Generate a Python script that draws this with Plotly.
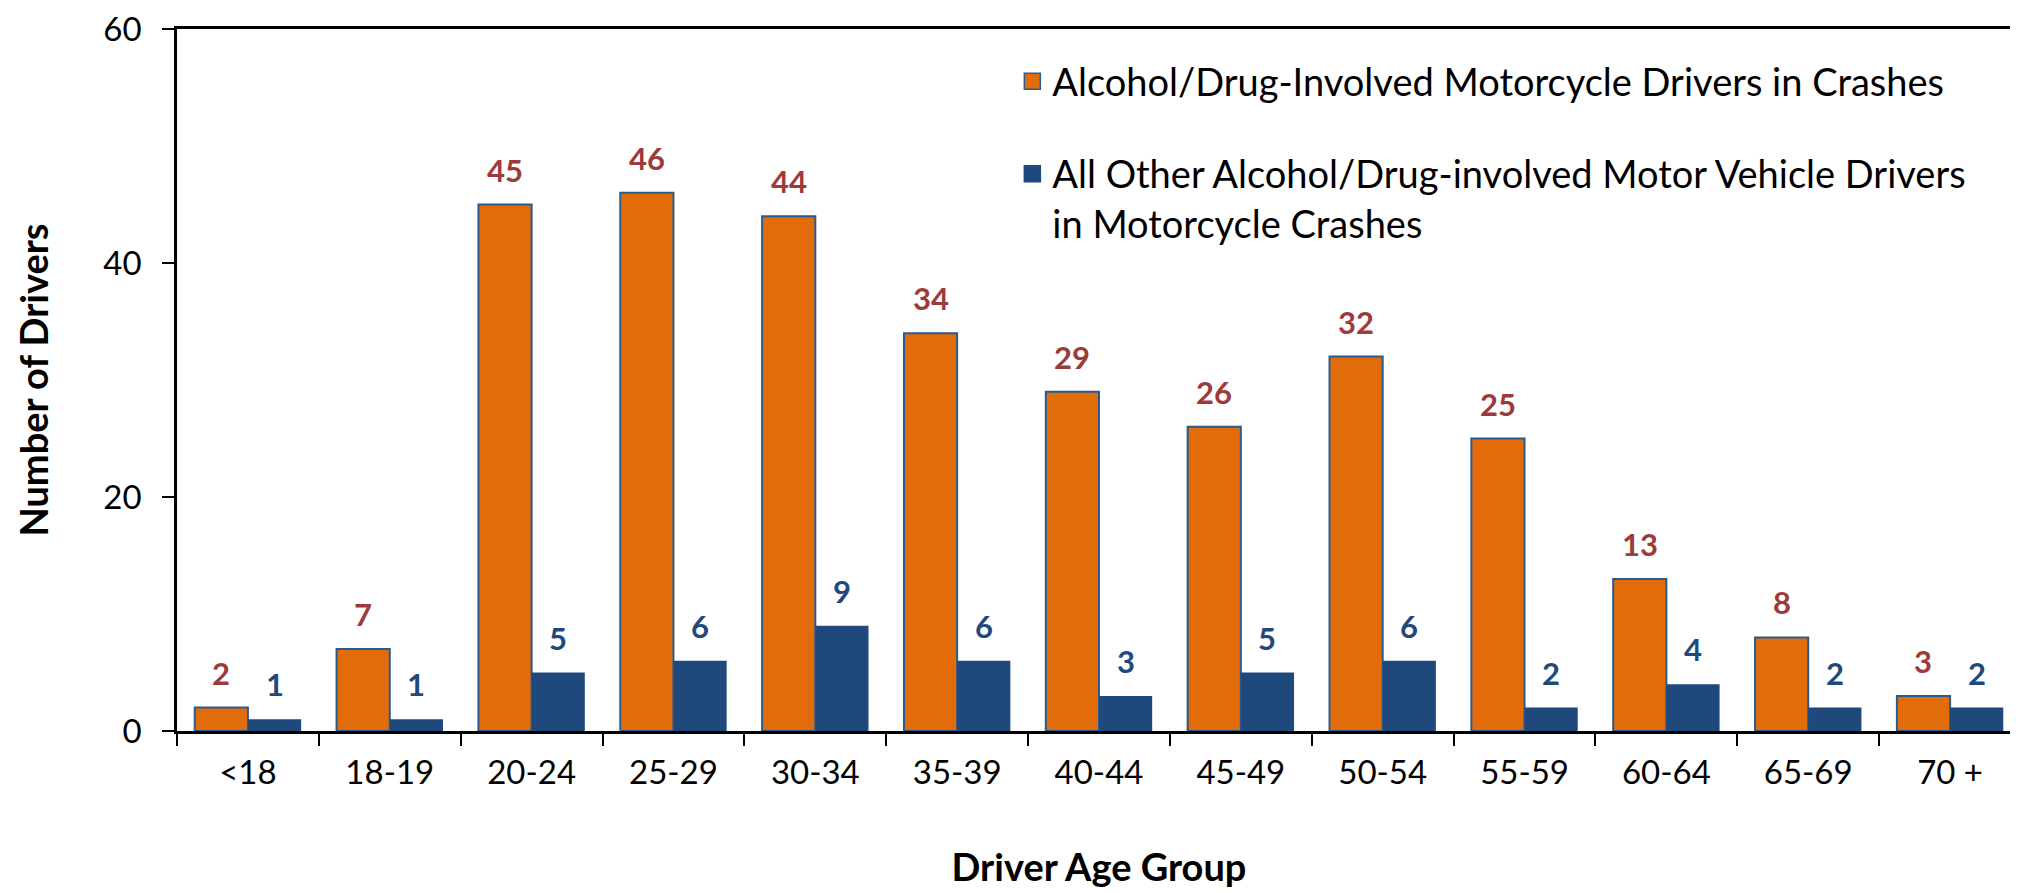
import plotly.graph_objects as go

# Driver age groups and counts
age_groups = ["<18", "18-19", "20-24", "25-29", "30-34", "35-39", "40-44",
              "45-49", "50-54", "55-59", "60-64", "65-69", "70 +"]
motorcycle_drivers = [2, 7, 45, 46, 44, 34, 29, 26, 32, 25, 13, 8, 3]
other_drivers = [1, 1, 5, 6, 9, 6, 3, 5, 6, 2, 4, 2, 2]

name_moto = "Alcohol/Drug-Involved Motorcycle Drivers in Crashes"
name_other = "All Other Alcohol/Drug-involved Motor Vehicle Drivers<br>in Motorcycle Crashes"

ORANGE = "#E36C0A"
NAVY = "#1F497D"
RED_LABEL = "#9B3B3A"
FONT = "Lato"

W, H = 2018, 893
M_L, M_R, M_T, M_B = 169, 5, 21, 170
BARGAP = 0.25

fig = go.Figure()

fig.add_trace(go.Bar(
    x=age_groups, y=motorcycle_drivers, name=name_moto,
    marker=dict(color=ORANGE, line=dict(color="#2A5A8E", width=2)),
    showlegend=False,
))
fig.add_trace(go.Bar(
    x=age_groups, y=other_drivers, name=name_other,
    marker=dict(color=NAVY, line=dict(color=NAVY, width=0)),
    showlegend=False,
))

# legend-only entries so the swatches can be larger than the bar icon
fig.add_trace(go.Scatter(
    x=[None], y=[None], mode="markers", name=name_moto, legendgroup="a",
    marker=dict(symbol="square", size=16, color=ORANGE,
                line=dict(color="#2A5A8E", width=1.5)),
))
fig.add_trace(go.Scatter(
    x=[None], y=[None], mode="markers", name=name_other, legendgroup="b",
    marker=dict(symbol="square", size=16, color=NAVY,
                line=dict(color=NAVY, width=1.5)),
))

# value labels above each bar
plot_w = W - M_L - M_R
bar_px = plot_w / len(age_groups) * (1 - BARGAP) / 2
for vals, shift, color in [(motorcycle_drivers, -bar_px / 2, RED_LABEL),
                           (other_drivers, bar_px / 2, NAVY)]:
    for cat, v in zip(age_groups, vals):
        fig.add_annotation(
            x=cat, y=v, text=str(v), showarrow=False,
            xshift=shift, yshift=14, yanchor="bottom",
            font=dict(family=FONT, size=31, color=color, weight="bold"),
        )

fig.update_layout(
    width=W, height=H,
    margin=dict(l=M_L, r=M_R, t=M_T, b=M_B),
    paper_bgcolor="white", plot_bgcolor="white",
    barmode="group", bargap=BARGAP, bargroupgap=0,
    font=dict(family=FONT, size=33, color="black"),
    legend=dict(
        x=0.453, y=0.97, xanchor="left", yanchor="top",
        bgcolor="rgba(0,0,0,0)", font=dict(size=38),
        valign="top", tracegroupgap=40, traceorder="grouped",
    ),
    xaxis=dict(
        title=dict(text="Driver Age Group", standoff=65,
                   font=dict(size=38, weight="bold")),
        automargin=False,
        showline=True, linecolor="black", linewidth=2.5, mirror=True,
        ticks="outside", ticklen=12, tickwidth=2, tickcolor="black",
        tickson="boundaries", ticklabelstandoff=11,
        showgrid=False,
    ),
    yaxis=dict(
        title=dict(text="Number of Drivers", standoff=44,
                   font=dict(size=38, weight="bold")),
        automargin=False,
        range=[0, 60], dtick=20,
        showline=True, linecolor="black", linewidth=2.5, mirror=True,
        ticks="outside", ticklen=12, tickwidth=2, tickcolor="black",
        ticklabelstandoff=14, ticklabeloverflow="allow",
        showgrid=False, zeroline=False,
    ),
)

fig.write_html("out.html")
